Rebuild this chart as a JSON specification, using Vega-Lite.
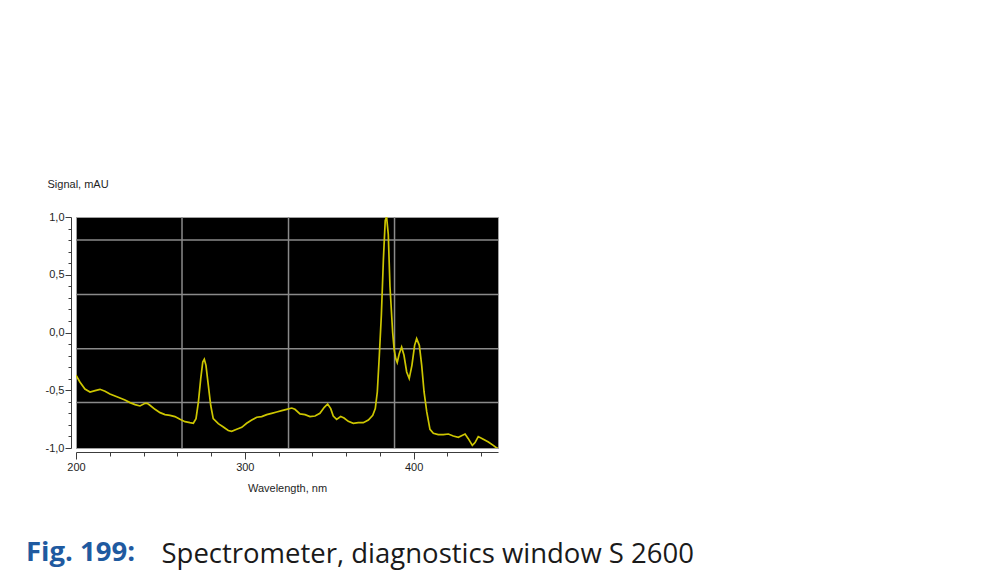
{
  "$schema": "https://vega.github.io/schema/vega-lite/v6.json",
  "width": 422,
  "height": 231,
  "autosize": {"type": "none"},
  "padding": {"left": 76, "top": 217, "right": 499, "bottom": 123},
  "background": "white",
  "config": {
    "view": {"fill": "black", "stroke": "#a0a0a0", "strokeWidth": 1},
    "font": "Liberation Sans"
  },
  "title": {
    "text": "Fig. 199:",
    "orient": "bottom",
    "anchor": "start",
    "frame": "group",
    "dx": -50,
    "offset": -7,
    "baseline": "alphabetic",
    "font": "Open Sans",
    "fontSize": 27.5,
    "fontWeight": "bold",
    "color": "#1f5aa0"
  },
  "resolve": {"axis": {"x": "independent", "y": "independent"}},
  "datasets": {
    "vgrid": [{"nm": 262.8}, {"nm": 325.9}, {"nm": 388.7}],
    "hgrid": [{"signal": 0.8}, {"signal": 0.33}, {"signal": -0.14}, {"signal": -0.605}],
    "spectrum": [
      {"nm": 200.0, "signal": -0.37},
      {"nm": 202.4, "signal": -0.43},
      {"nm": 205.3, "signal": -0.49},
      {"nm": 208.3, "signal": -0.515},
      {"nm": 211.3, "signal": -0.503},
      {"nm": 214.2, "signal": -0.492},
      {"nm": 217.2, "signal": -0.509},
      {"nm": 220.1, "signal": -0.532},
      {"nm": 223.1, "signal": -0.55},
      {"nm": 226.1, "signal": -0.567},
      {"nm": 229.0, "signal": -0.584},
      {"nm": 232.0, "signal": -0.607},
      {"nm": 235.0, "signal": -0.624},
      {"nm": 237.9, "signal": -0.636},
      {"nm": 240.9, "signal": -0.613},
      {"nm": 242.2, "signal": -0.613},
      {"nm": 243.8, "signal": -0.63},
      {"nm": 246.8, "signal": -0.665},
      {"nm": 249.8, "signal": -0.694},
      {"nm": 252.7, "signal": -0.711},
      {"nm": 255.7, "signal": -0.717},
      {"nm": 258.6, "signal": -0.728},
      {"nm": 261.6, "signal": -0.752},
      {"nm": 264.6, "signal": -0.772},
      {"nm": 267.5, "signal": -0.781},
      {"nm": 269.5, "signal": -0.786},
      {"nm": 271.1, "signal": -0.746},
      {"nm": 272.5, "signal": -0.602},
      {"nm": 273.9, "signal": -0.399},
      {"nm": 275.1, "signal": -0.255},
      {"nm": 276.0, "signal": -0.232},
      {"nm": 277.0, "signal": -0.284},
      {"nm": 278.4, "signal": -0.457},
      {"nm": 279.8, "signal": -0.63},
      {"nm": 281.3, "signal": -0.746},
      {"nm": 284.3, "signal": -0.789},
      {"nm": 287.3, "signal": -0.818},
      {"nm": 290.2, "signal": -0.849},
      {"nm": 292.2, "signal": -0.855},
      {"nm": 295.2, "signal": -0.838},
      {"nm": 298.2, "signal": -0.821},
      {"nm": 301.1, "signal": -0.786},
      {"nm": 304.1, "signal": -0.758},
      {"nm": 307.1, "signal": -0.734},
      {"nm": 310.0, "signal": -0.728},
      {"nm": 313.0, "signal": -0.711},
      {"nm": 315.9, "signal": -0.7},
      {"nm": 318.9, "signal": -0.688},
      {"nm": 321.9, "signal": -0.676},
      {"nm": 324.8, "signal": -0.665},
      {"nm": 327.8, "signal": -0.654},
      {"nm": 329.7, "signal": -0.665},
      {"nm": 332.7, "signal": -0.705},
      {"nm": 335.7, "signal": -0.711},
      {"nm": 338.6, "signal": -0.728},
      {"nm": 341.6, "signal": -0.723},
      {"nm": 344.5, "signal": -0.7},
      {"nm": 347.1, "signal": -0.648},
      {"nm": 349.1, "signal": -0.619},
      {"nm": 350.9, "signal": -0.659},
      {"nm": 352.4, "signal": -0.723},
      {"nm": 354.4, "signal": -0.752},
      {"nm": 356.8, "signal": -0.728},
      {"nm": 358.8, "signal": -0.74},
      {"nm": 361.3, "signal": -0.769},
      {"nm": 364.3, "signal": -0.786},
      {"nm": 367.2, "signal": -0.781},
      {"nm": 370.2, "signal": -0.781},
      {"nm": 373.2, "signal": -0.758},
      {"nm": 375.8, "signal": -0.717},
      {"nm": 377.3, "signal": -0.659},
      {"nm": 378.5, "signal": -0.515},
      {"nm": 379.7, "signal": -0.197},
      {"nm": 380.9, "signal": 0.149},
      {"nm": 382.1, "signal": 0.63},
      {"nm": 383.2, "signal": 0.97},
      {"nm": 384.0, "signal": 1.0},
      {"nm": 385.0, "signal": 0.85},
      {"nm": 386.0, "signal": 0.4},
      {"nm": 387.6, "signal": 0.0},
      {"nm": 388.5, "signal": -0.15},
      {"nm": 389.5, "signal": -0.23},
      {"nm": 390.3, "signal": -0.26},
      {"nm": 391.5, "signal": -0.183},
      {"nm": 392.9, "signal": -0.126},
      {"nm": 394.3, "signal": -0.197},
      {"nm": 395.9, "signal": -0.342},
      {"nm": 397.4, "signal": -0.399},
      {"nm": 399.0, "signal": -0.284},
      {"nm": 400.6, "signal": -0.111},
      {"nm": 401.8, "signal": -0.053},
      {"nm": 403.4, "signal": -0.111},
      {"nm": 404.8, "signal": -0.284},
      {"nm": 406.2, "signal": -0.515},
      {"nm": 407.8, "signal": -0.688},
      {"nm": 409.7, "signal": -0.838},
      {"nm": 411.7, "signal": -0.873},
      {"nm": 414.6, "signal": -0.884},
      {"nm": 417.6, "signal": -0.884},
      {"nm": 420.6, "signal": -0.879},
      {"nm": 423.5, "signal": -0.896},
      {"nm": 426.5, "signal": -0.907},
      {"nm": 430.5, "signal": -0.879},
      {"nm": 432.4, "signal": -0.919},
      {"nm": 434.8, "signal": -0.977},
      {"nm": 436.4, "signal": -0.953},
      {"nm": 438.3, "signal": -0.901},
      {"nm": 441.3, "signal": -0.925},
      {"nm": 444.3, "signal": -0.948},
      {"nm": 447.2, "signal": -0.977},
      {"nm": 449.2, "signal": -1.0},
      {"nm": 450.0, "signal": -1.0}
    ]
  },
  "layer": [
    {
      "data": {"name": "vgrid"},
      "mark": {"type": "rule", "color": "#8a8a8a", "strokeWidth": 1.5},
      "encoding": {
        "x": {"field": "nm", "type": "quantitative", "axis": null, "scale": {"domain": [200, 450], "nice": false, "zero": false}}
      }
    },
    {
      "data": {"name": "hgrid"},
      "mark": {"type": "rule", "color": "#8a8a8a", "strokeWidth": 1.5},
      "encoding": {
        "y": {
          "field": "signal", "type": "quantitative",
          "scale": {"domain": [-1, 1], "nice": false, "zero": false},
          "axis": {
            "orient": "right",
            "domain": false,
            "ticks": false,
            "labels": false,
            "grid": false,
            "title": "Spectrometer, diagnostics window S 2600",
            "titleAngle": 0,
            "titleAlign": "left",
            "titleBaseline": "alphabetic",
            "titleX": -337,
            "titleY": 345,
            "titleFont": "Open Sans",
            "titleFontSize": 27.5,
            "titleFontWeight": "normal",
            "titleColor": "#1a1a1a"
          }
        }
      }
    },
    {
      "data": {"name": "spectrum"},
      "mark": {"type": "line", "color": "#cdc600", "strokeWidth": 1.7, "clip": true},
      "encoding": {
        "x": {
          "field": "nm", "type": "quantitative", "title": "Wavelength, nm",
          "scale": {"domain": [200, 450], "nice": false, "zero": false},
          "axis": {
            "values": [200, 220, 240, 260, 280, 300, 320, 340, 360, 380, 400, 420, 440],
            "labelExpr": "datum.value % 100 === 0 ? datum.label : ''",
            "tickSize": {"condition": {"test": "datum.value % 100 === 0", "value": 7}, "value": 4},
            "offset": 4,
            "grid": false,
            "domainColor": "#3c3c3c",
            "tickColor": "#3c3c3c",
            "labelFontSize": 11,
            "labelColor": "#1e1e1e",
            "labelPadding": 2,
            "labelFlush": false,
            "labelOverlap": false,
            "titleFontSize": 11,
            "titleFontWeight": "normal",
            "titleColor": "#1e1e1e",
            "titlePadding": 10
          }
        },
        "y": {
          "field": "signal", "type": "quantitative", "title": "Signal, mAU",
          "scale": {"domain": [-1, 1], "nice": false, "zero": false},
          "axis": {
            "values": [-1, -0.9, -0.8, -0.7, -0.6, -0.5, -0.4, -0.3, -0.2, -0.1, 0, 0.1, 0.2, 0.3, 0.4, 0.5, 0.6, 0.7, 0.8, 0.9, 1],
            "labelExpr": "abs(datum.value * 2 - round(datum.value * 2)) < 0.001 ? replace(replace(format(datum.value, '.1f'), '.', ','), '\u2212', '-') : ''",
            "tickSize": {"condition": {"test": "abs(datum.value * 2 - round(datum.value * 2)) < 0.001", "value": 6}, "value": 3},
            "offset": 5,
            "grid": false,
            "domainColor": "#3c3c3c",
            "tickColor": "#3c3c3c",
            "labelFontSize": 11,
            "labelColor": "#1e1e1e",
            "labelPadding": 1,
            "labelFlush": false,
            "labelOverlap": false,
            "titleAngle": 0,
            "titleAlign": "left",
            "titleBaseline": "alphabetic",
            "titleX": -24,
            "titleY": -30,
            "titleFontSize": 11,
            "titleFontWeight": "normal",
            "titleColor": "#1e1e1e"
          }
        }
      }
    }
  ]
}
